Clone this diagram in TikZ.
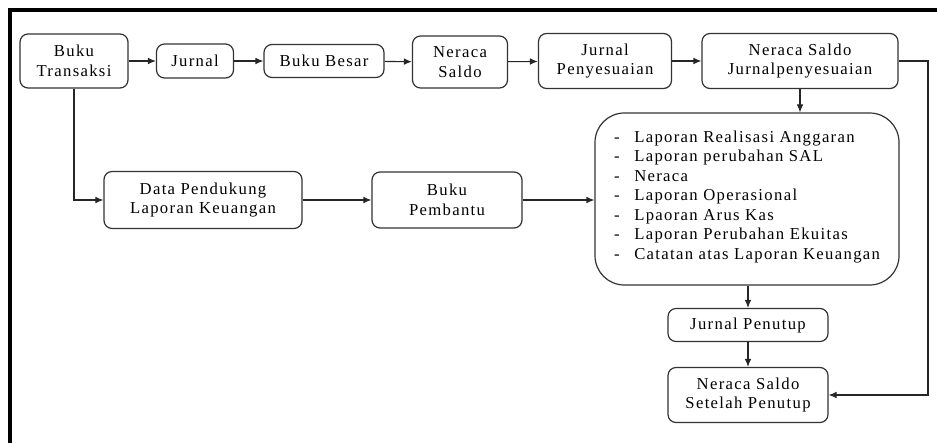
\documentclass[tikz,border=0pt]{standalone}
\usepackage{fontspec}
\setmainfont{Liberation Serif}
\usepackage{tikz}
\usetikzlibrary{arrows.meta}

\tikzset{
    box/.style={draw=black!80, line width=0.9pt, rounded corners=6pt, align=center, inner sep=2pt},
    conn/.style={draw=black!85, line width=0.8pt, -{Latex[length=6pt, width=5pt]}},
}

\begin{document}
\begin{tikzpicture}[x=0.75pt, y=-0.75pt, font=\rmfamily\addfontfeatures{LetterSpace=8}\fontsize{12.5}{14.6}\selectfont]
            \useasboundingbox (0,0) rectangle (937,443);
            \draw[line width=3pt] (10,443) -- (10,10) -- (937,10);
            % baris atas
            \node[box, minimum width=81pt, minimum height=40.5pt] at (74,61) (trans) {Buku\\Transaksi};
            \node[box, minimum width=57.75pt, minimum height=25.5pt] at (195,61) (jurnal) {Jurnal};
            \node[box, minimum width=90pt, minimum height=24.75pt] at (324,61) (besar) {Buku Besar};
            \node[box, minimum width=71.25pt, minimum height=39pt] at (460,62) (neraca) {Neraca\\Saldo};
            \node[box, minimum width=99.75pt, minimum height=41.25pt] at (605,61) (jp) {Jurnal\\Penyesuaian};
            \node[box, minimum width=147pt, minimum height=41.25pt] at (800,61) (nsjp) {Neraca Saldo\\Jurnalpenyesuaian};
            % baris tengah
            \node[box, minimum width=148.5pt, minimum height=42.75pt] at (203,200) (data) {Data Pendukung\\Laporan Keuangan};
            \node[box, minimum width=112.5pt, minimum height=42pt] at (447,200) (pembantu) {Buku\\Pembantu};
            \node[box, rounded corners=22pt, minimum width=228pt, minimum height=129pt] at (747,199) (laporan) {%
                \begin{tabular}{@{}l@{\hspace{11pt}}l@{}}
                - & Laporan Realisasi Anggaran\\
                - & Laporan perubahan SAL\\
                - & Neraca\\
                - & Laporan Operasional\\
                - & Lpaoran Arus Kas\\
                - & Laporan Perubahan Ekuitas\\
                - & Catatan atas Laporan Keuangan\\[3pt]
                \end{tabular}};
            % penutupan
            \node[box, minimum width=120pt, minimum height=24.75pt] at (748,325) (penutup) {Jurnal Penutup};
            \node[box, minimum width=120pt, minimum height=41.25pt] at (748,395) (setelah) {Neraca Saldo\\Setelah Penutup};
            % panah
            \draw[conn] (trans) -- (jurnal);
            \draw[conn] (jurnal) -- (besar);
            \draw[conn] (besar) -- (neraca);
            \draw[conn] (neraca) -- (jp);
            \draw[conn] (jp) -- (nsjp);
            \draw[conn] (nsjp.south) -- (nsjp.south |- laporan.north);
            \draw[conn] (trans.south) |- (data.west);
            \draw[conn] (data) -- (pembantu);
            \draw[conn] (pembantu) -- (pembantu -| laporan.west);
            \draw[conn] (laporan.south -| penutup.north) -- (penutup.north);
            \draw[conn] (penutup) -- (setelah);
            \coordinate (kanan) at (928,61);
            \draw[conn] (nsjp.east) -- (kanan) |- (setelah.east);
        \end{tikzpicture}
\end{document}
